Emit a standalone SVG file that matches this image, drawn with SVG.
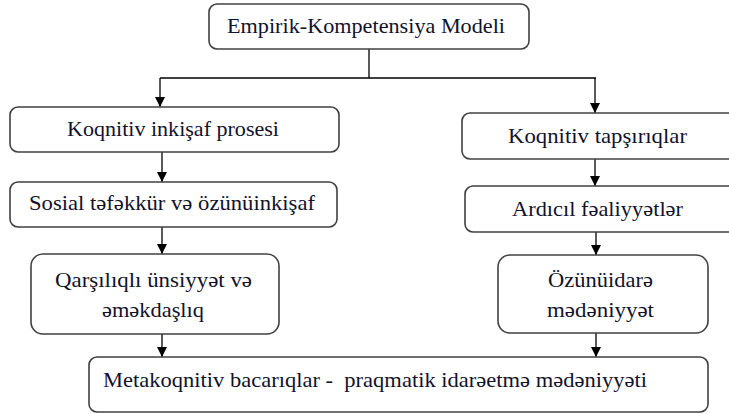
<svg xmlns="http://www.w3.org/2000/svg" width="729" height="414" viewBox="0 0 729 414">
<style>
.box{fill:#fff;stroke:#404040;stroke-width:1.6}
.c{fill:none;stroke:#000;stroke-width:1.3}
</style>
<defs>
<marker id="a" markerUnits="userSpaceOnUse" markerWidth="10" markerHeight="11" refX="10" refY="5" orient="auto" viewBox="0 0 10 10">
<path d="M0,0 L10,5 L0,10 Z" fill="#000"/>
</marker>
</defs>
<g id="connectors">
<path class="c" d="M369,49 V78"/>
<path class="c" d="M160,78 H596"/>
<path class="c" d="M160,78 V107" marker-end="url(#a)"/>
<path class="c" d="M595,78 V113" marker-end="url(#a)"/>
<path class="c" d="M162,152 V182" marker-end="url(#a)"/>
<path class="c" d="M162,227 V254" marker-end="url(#a)"/>
<path class="c" d="M162,334 V357" marker-end="url(#a)"/>
<path class="c" d="M595,159 V186" marker-end="url(#a)"/>
<path class="c" d="M596,232 V255" marker-end="url(#a)"/>
<path class="c" d="M596,333 V357" marker-end="url(#a)"/>
</g>
<g id="n-top">
<rect class="box" x="209" y="4" width="320" height="45" rx="8"/>
<text font-family="Liberation Serif" font-size="21" fill="#12122a" text-anchor="middle" x="366" y="33" textLength="278" lengthAdjust="spacingAndGlyphs">Empirik-Kompetensiya Modeli</text>
</g>
<g id="n-koqnitiv-inkisaf">
<rect class="box" x="10" y="107" width="329" height="45" rx="8"/>
<text font-family="Liberation Serif" font-size="21" fill="#12122a" text-anchor="middle" x="173" y="136" textLength="212" lengthAdjust="spacingAndGlyphs">Koqnitiv inkişaf prosesi</text>
</g>
<g id="n-sosial">
<rect class="box" x="10" y="182" width="327" height="45" rx="8"/>
<text font-family="Liberation Serif" font-size="21" fill="#12122a" text-anchor="middle" x="172" y="210" textLength="286" lengthAdjust="spacingAndGlyphs">Sosial təfəkkür və özünüinkişaf</text>
</g>
<g id="n-qarsiliqli">
<rect class="box" x="31" y="254" width="248" height="80" rx="12"/>
<text font-family="Liberation Serif" font-size="21" fill="#12122a" text-anchor="middle" x="153.5" y="287" textLength="197" lengthAdjust="spacingAndGlyphs">Qarşılıqlı ünsiyyət və</text>
<text font-family="Liberation Serif" font-size="21" fill="#12122a" text-anchor="middle" x="153" y="317" textLength="102" lengthAdjust="spacingAndGlyphs">əməkdaşlıq</text>
</g>
<g id="n-koqnitiv-tapsiriqlar">
<rect class="box" x="462" y="113" width="275" height="46" rx="8"/>
<text font-family="Liberation Serif" font-size="21" fill="#12122a" text-anchor="middle" x="597.5" y="143" textLength="179" lengthAdjust="spacingAndGlyphs">Koqnitiv tapşırıqlar</text>
</g>
<g id="n-ardicil">
<rect class="box" x="465" y="186" width="272" height="46" rx="8"/>
<text font-family="Liberation Serif" font-size="21" fill="#12122a" text-anchor="middle" x="597.5" y="216" textLength="171" lengthAdjust="spacingAndGlyphs">Ardıcıl fəaliyyətlər</text>
</g>
<g id="n-ozunuidare">
<rect class="box" x="498" y="255" width="210" height="78" rx="12"/>
<text font-family="Liberation Serif" font-size="21" fill="#12122a" text-anchor="middle" x="600.5" y="287" textLength="105" lengthAdjust="spacingAndGlyphs">Özünüidarə</text>
<text font-family="Liberation Serif" font-size="21" fill="#12122a" text-anchor="middle" x="600.5" y="317" textLength="107" lengthAdjust="spacingAndGlyphs">mədəniyyət</text>
</g>
<g id="n-metakoqnitiv">
<rect class="box" x="89" y="357" width="619" height="55" rx="8"/>
<text font-family="Liberation Serif" font-size="21" fill="#12122a" x="103" y="387" textLength="544" lengthAdjust="spacingAndGlyphs" xml:space="preserve">Metakoqnitiv bacarıqlar -  praqmatik idarəetmə mədəniyyəti</text>
</g>
</svg>
